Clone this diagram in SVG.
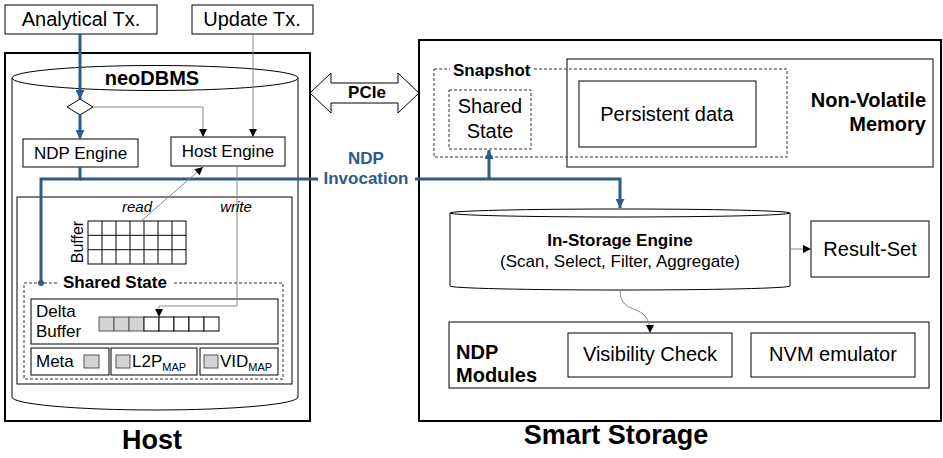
<svg xmlns="http://www.w3.org/2000/svg" width="943" height="458" viewBox="0 0 943 458">
<style>
text{font-family:"Liberation Sans",Arial,Helvetica,sans-serif;fill:#000}
.b{font-weight:bold}
.box{fill:#fff;stroke:#000;stroke-width:1}
.thick{fill:#fff;stroke:#000;stroke-width:2}
.dash{fill:none;stroke:#333;stroke-width:1;stroke-dasharray:3,2}
.blue{fill:none;stroke:#2d5b8a;stroke-width:3}
.thin{fill:none;stroke:#888;stroke-width:1}
.gray{fill:#d3d3d3;stroke:#555;stroke-width:1}
.t20{font-size:20px}
.t17{font-size:17px}
.bt{fill:#2d5b8a;font-weight:bold;font-size:17px}
</style>
<defs>
<marker id="ab" viewBox="0 0 10 10" refX="10" refY="5" markerWidth="9" markerHeight="8" markerUnits="userSpaceOnUse" orient="auto"><path d="M0,0 L10,5 L0,10 z" fill="#000"/></marker>
<marker id="abl" viewBox="0 0 10 10" refX="10" refY="5" markerWidth="10" markerHeight="9" markerUnits="userSpaceOnUse" orient="auto"><path d="M0,0 L10,5 L0,10 z" fill="#2d5b8a"/></marker>
</defs>

<g id="host">
<rect class="thick" x="5" y="53" width="305" height="368"/>
<text class="b" x="152" y="449" font-size="27" text-anchor="middle">Host</text>
</g>
<g id="storage">
<rect class="thick" x="419" y="40" width="522" height="381"/>
<text class="b" x="616" y="444" font-size="27" text-anchor="middle">Smart Storage</text>
</g>

<g id="analytical-tx">
<rect class="box" x="5" y="5" width="152" height="29"/>
<text class="t20" x="81" y="26" text-anchor="middle">Analytical Tx.</text>
</g>
<g id="update-tx">
<rect class="box" x="192" y="5" width="121" height="29"/>
<text class="t20" x="252" y="26" text-anchor="middle">Update Tx.</text>
</g>

<g id="neodbms">
<path class="box" d="M12,78 L12,397 A143,13 0 0 0 298,397 L298,78"/>
<ellipse class="box" cx="155" cy="78" rx="143" ry="12.5"/>
<text class="b t20" x="152" y="85" text-anchor="middle">neoDBMS</text>
</g>

<g id="router">
<polygon class="box" points="67,107 80,99 93,107 80,115"/>
</g>
<g id="ndp-engine">
<rect class="box" x="23" y="139" width="115" height="28"/>
<text class="t17" x="80.5" y="159" text-anchor="middle">NDP Engine</text>
</g>
<g id="host-engine">
<rect class="box" x="171" y="137" width="114" height="29"/>
<text class="t17" x="228" y="157" text-anchor="middle">Host Engine</text>
</g>

<g id="memory-area">
<rect class="box" x="17" y="197" width="275" height="187"/>
</g>
<g id="buffer">
<rect class="box" x="88" y="221" width="98" height="43"/>
<path fill="none" stroke="#000" stroke-width="1" d="M102,221V264M116,221V264M130,221V264M144,221V264M158,221V264M172,221V264M88,235.3H186M88,249.7H186"/>
<text font-size="16" x="83" y="242" text-anchor="middle" transform="rotate(-90 83 242)">Buffer</text>
</g>
<g id="shared-state-host">
<rect class="dash" x="24" y="283" width="259" height="96"/>
<rect fill="#fff" x="57" y="275" width="117" height="16"/>
<text class="b t17" x="63" y="288">Shared State</text>
</g>
<g id="delta-buffer">
<rect class="box" x="31" y="299" width="247" height="45"/>
<text class="t17" x="36" y="317">Delta</text>
<text class="t17" x="36" y="337">Buffer</text>
<rect class="gray" x="99" y="317" width="15" height="14"/>
<rect class="gray" x="114" y="317" width="15" height="14"/>
<rect class="gray" x="129" y="317" width="15" height="14"/>
<rect class="box" x="144" y="317" width="15" height="14"/>
<rect class="box" x="159" y="317" width="15" height="14"/>
<rect class="box" x="174" y="317" width="15" height="14"/>
<rect class="box" x="189" y="317" width="15" height="14"/>
<rect class="box" x="204" y="317" width="15" height="14"/>
</g>
<g id="meta">
<rect class="box" x="31" y="348" width="78" height="27"/>
<text class="t17" x="36" y="367">Meta</text>
<rect class="gray" x="84" y="355" width="15" height="13"/>
</g>
<g id="l2p">
<rect class="box" x="111" y="348" width="86" height="27"/>
<rect class="gray" x="116" y="355" width="14" height="13"/>
<text class="t17" x="132" y="367">L2P<tspan font-size="11" dy="4">MAP</tspan></text>
</g>
<g id="vid">
<rect class="box" x="200" y="348" width="78" height="27"/>
<rect class="gray" x="204" y="355" width="14" height="13"/>
<text class="t17" x="220" y="367">VID<tspan font-size="11" dy="4">MAP</tspan></text>
</g>

<g id="pcie">
<polygon class="box" points="310,93 331,73 331,83 398,83 398,73 419,93 398,113 398,103 331,103 331,113"/>
<text class="b t17" x="367" y="98" text-anchor="middle">PCIe</text>
</g>

<g id="nvm">
<rect class="box" x="567" y="59" width="366" height="108"/>
<text class="b t20" x="926" y="107" text-anchor="end">Non-Volatile</text>
<text class="b t20" x="926" y="131" text-anchor="end">Memory</text>
</g>
<g id="persistent-data">
<rect class="box" x="579" y="81" width="177" height="66"/>
<text class="t20" x="667" y="121" text-anchor="middle">Persistent data</text>
</g>
<g id="snapshot">
<rect class="dash" x="434" y="69" width="353" height="88"/>
<rect fill="#fff" x="450" y="60" width="82" height="18"/>
<text class="b t17" x="453" y="76">Snapshot</text>
</g>
<g id="shared-state-storage">
<rect class="dash" x="449" y="90" width="82" height="59"/>
<text class="t20" x="490" y="113" text-anchor="middle">Shared</text>
<text class="t20" x="490" y="138" text-anchor="middle">State</text>
</g>

<g id="in-storage-engine">
<path class="box" d="M450,213 L450,286 A170,4 0 0 0 790,286 L790,213"/>
<ellipse class="box" cx="620" cy="213" rx="170" ry="4"/>
<text class="b t17" x="620" y="246" text-anchor="middle">In-Storage Engine</text>
<text class="t17" x="620" y="267" text-anchor="middle">(Scan, Select, Filter, Aggregate)</text>
</g>
<g id="result-set">
<rect class="box" x="811" y="221" width="118" height="56"/>
<text class="t20" x="870" y="256" text-anchor="middle">Result-Set</text>
</g>
<g id="ndp-modules">
<rect class="box" x="449" y="322" width="480" height="66"/>
<text class="b t20" x="456" y="359">NDP</text>
<text class="b t20" x="456" y="382">Modules</text>
</g>
<g id="visibility-check">
<rect class="box" x="568" y="333" width="164" height="44"/>
<text class="t20" x="650" y="361" text-anchor="middle">Visibility Check</text>
</g>
<g id="nvm-emulator">
<rect class="box" x="751" y="333" width="164" height="44"/>
<text class="t20" x="833" y="361" text-anchor="middle">NVM emulator</text>
</g>

<g id="connectors">
<path class="blue" d="M80,34 V99" marker-end="url(#abl)"/>
<path class="blue" d="M80,115 V139" marker-end="url(#abl)"/>
<path class="blue" d="M80,167 V179 H41 V283"/>
<circle cx="41" cy="283" r="3" fill="#2d5b8a"/>
<path class="blue" d="M80,179 H318"/>
<path class="blue" d="M415,179 H620 V208" marker-end="url(#abl)"/>
<path class="blue" d="M489,179 V150" marker-end="url(#abl)"/>
<text class="bt" x="366" y="164" text-anchor="middle">NDP</text>
<text class="bt" x="366" y="184" text-anchor="middle">Invocation</text>
<path class="thin" d="M93,107 H203 V137" marker-end="url(#ab)"/>
<path class="thin" d="M253,34 V137" marker-end="url(#ab)"/>
<path class="thin" d="M140,222 L203,167" marker-end="url(#ab)"/>
<path class="thin" d="M237,166 V306 H159 V317" marker-end="url(#ab)"/>
<text font-size="15" font-style="italic" x="137" y="212" text-anchor="middle">read</text>
<text font-size="15" font-style="italic" x="236" y="212" text-anchor="middle">write</text>
<path class="thin" d="M620,290 C620,318 650,300 650,333" marker-end="url(#ab)"/>
<path class="thin" d="M790,249 H811" marker-end="url(#ab)"/>
</g>
</svg>
